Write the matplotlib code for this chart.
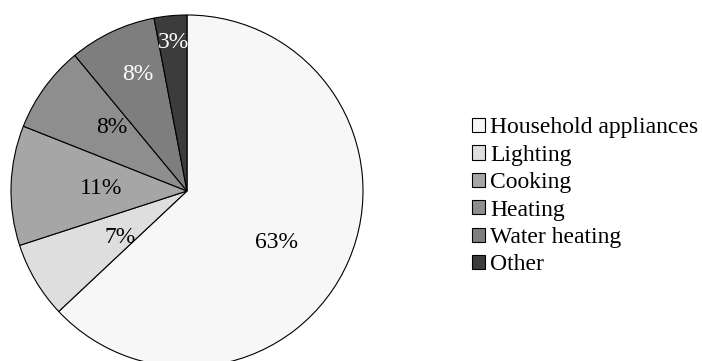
import numpy as np
import matplotlib
matplotlib.use('Agg')
import matplotlib.pyplot as plt
from matplotlib.patches import Patch

# data
categories = ['Household appliances', 'Lighting', 'Cooking', 'Heating', 'Water heating', 'Other']
shares = [63, 7, 11, 8, 8, 3]

# styles
colors = ['#f7f7f7', '#dedede', '#a6a6a6', '#8e8e8e', '#7e7e7e', '#3c3c3c']
label_colors = ['black', 'black', 'black', 'black', 'white', 'white']
label_radius = [0.59, 0.465, 0.49, 0.56, 0.72, 0.845]
label_dangle = [-6.6, 4.4, 0, -4, -2.5, 0]

plt.rcParams['font.family'] = ['Liberation Serif', 'DejaVu Serif']

W, H = 702, 361
fig = plt.figure(figsize=(W / 100, H / 100), dpi=100)

cx, cy, r = 187, 191, 176
ax = fig.add_axes([(cx - r) / W, (H - cy - r) / H, 2 * r / W, 2 * r / H])
wedges, _ = ax.pie(shares, colors=colors, startangle=90, counterclock=False,
                   radius=1.0, wedgeprops=dict(edgecolor='black', linewidth=0.8))
ax.set_xlim(-1, 1)
ax.set_ylim(-1, 1)
ax.set_aspect('equal')
ax.axis('off')
for w in wedges:
    w.set_clip_on(False)

# percentage labels inside slices
for w, v, c, rr, da in zip(wedges, shares, label_colors, label_radius, label_dangle):
    mid = np.deg2rad((w.theta1 + w.theta2) / 2 + da)
    ax.text(rr * np.cos(mid), rr * np.sin(mid), f'{v}%', ha='center', va='center',
            fontsize=17, color=c)

handles = [Patch(facecolor=c, edgecolor='black', linewidth=0.8) for c in colors]
fig.legend(handles, categories, loc='upper left', bbox_to_anchor=(472 / W, 1 - 117.5 / H),
           frameon=False, fontsize=17, handlelength=0.55, handleheight=0.55,
           handletextpad=0.21, labelspacing=0.27, borderpad=0, borderaxespad=0)

fig.savefig('out.png', dpi=100)
